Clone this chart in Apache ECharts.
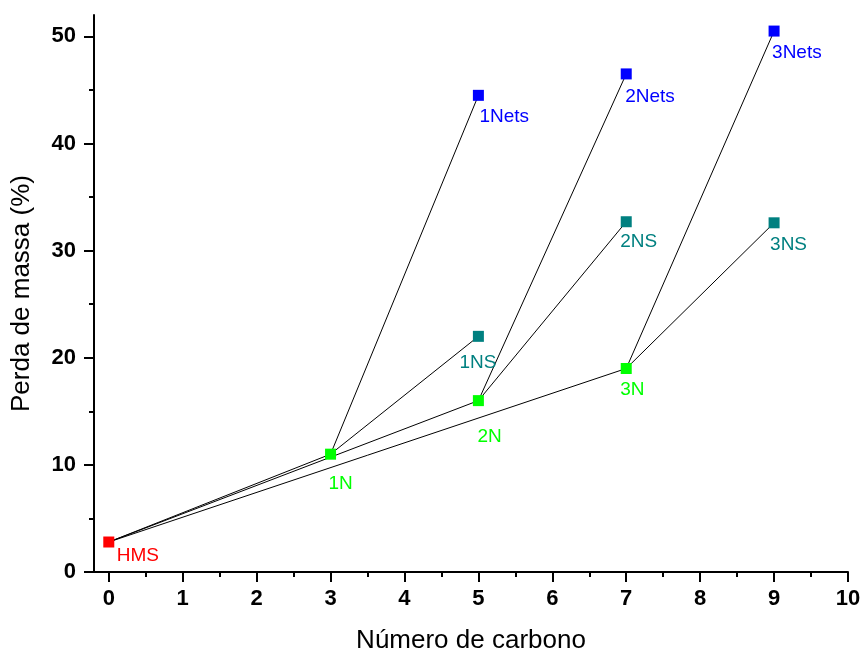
<!DOCTYPE html>
<html>
<head>
<meta charset="utf-8">
<script src="https://cdn.jsdelivr.net/npm/echarts@6/dist/echarts.min.js"></script>
<style>html,body{margin:0;padding:0;background:#fff}#c{width:862px;height:650px}</style>
</head>
<body>
<div id="c"></div>
<script>
// ---- data ----
const names = ['HMS', '1N', '2N', '3N', '1NS', '2NS', '3NS', '1Nets', '2Nets', '3Nets'];
const carbonNumber = [0, 3, 5, 7, 5, 7, 9, 5, 7, 9];
const massLoss = [2.8, 11, 16, 19, 22, 32.7, 32.6, 44.5, 46.5, 50.5];
const groups = ['HMS', 'N', 'N', 'N', 'NS', 'NS', 'NS', 'Nets', 'Nets', 'Nets'];
const links = [
  ['HMS', '1N'], ['HMS', '2N'], ['HMS', '3N'],
  ['1N', '1NS'], ['1N', '1Nets'],
  ['2N', '2NS'], ['2N', '2Nets'],
  ['3N', '3NS'], ['3N', '3Nets']
];
const xTicks = [0, 1, 2, 3, 4, 5, 6, 7, 8, 9, 10];
const xMinorTicks = [0.5, 1.5, 2.5, 3.5, 4.5, 5.5, 6.5, 7.5, 8.5, 9.5];
const yTicks = [0, 10, 20, 30, 40, 50];
const yMinorTicks = [5, 15, 25, 35, 45];

// ---- styles ----
const groupColor = { HMS: '#ff0000', N: '#00ff00', NS: '#008080', Nets: '#0000ff' };
const labelOffset = {
  'HMS': [8, 14], '1N': [-2, 30], '2N': [-1, 36], '3N': [-6, 21],
  '1NS': [-19, 26], '2NS': [-6, 20], '3NS': [-4, 22],
  '1Nets': [1, 21], '2Nets': [-1, 23], '3Nets': [-2, 22]
};
const FONT = '"Liberation Sans", Arial, sans-serif';

const idx = n => names.indexOf(n);
const series = [];
links.forEach(([a, b]) => {
  series.push({
    type: 'line', xAxisIndex: 0, yAxisIndex: 0, silent: true,
    symbol: 'none', z: 1,
    lineStyle: { color: '#000', width: 1, opacity: 1 },
    data: [[carbonNumber[idx(a)], massLoss[idx(a)]], [carbonNumber[idx(b)], massLoss[idx(b)]]]
  });
});
series.push({
  type: 'scatter', xAxisIndex: 0, yAxisIndex: 0, z: 3,
  symbol: 'rect', symbolSize: 11,
  data: names.map((n, i) => ({
    name: n,
    value: [carbonNumber[i], massLoss[i]],
    itemStyle: { color: groupColor[groups[i]], opacity: 1 },
    label: {
      show: true, formatter: n, position: 'inside', align: 'left', verticalAlign: 'middle',
      offset: labelOffset[n], color: groupColor[groups[i]],
      fontFamily: FONT, fontSize: 19
    }
  }))
});

const tickStyle = { color: '#000', width: 2 };
const option = {
  animation: false,
  backgroundColor: '#fff',
  grid: { left: 94, right: 14, top: 15, bottom: 78, containLabel: false, outerBoundsMode: 'none' },
  xAxis: [{
    type: 'value', min: -0.2, max: 10, position: 'bottom',
    name: 'Número de carbono', nameLocation: 'middle', nameGap: 56,
    nameTextStyle: { fontFamily: FONT, fontSize: 26, color: '#000' },
    axisLine: { show: true, onZero: false, lineStyle: { color: '#000', width: 2 } },
    axisTick: { show: true, inside: false, length: 10, lineStyle: tickStyle, customValues: xTicks },
    axisLabel: { customValues: xTicks, margin: 16, fontFamily: FONT, fontSize: 22, fontWeight: 'bold', color: '#000' },
    splitLine: { show: false }
  }, {
    type: 'value', min: -0.2, max: 10, position: 'bottom', offset: 0,
    axisLine: { show: false, onZero: false },
    axisTick: { show: true, length: 5, lineStyle: tickStyle, customValues: xMinorTicks },
    axisLabel: { show: false },
    splitLine: { show: false }
  }],
  yAxis: [{
    type: 'value', min: 0, max: 52, position: 'left',
    name: 'Perda de massa (%)', nameLocation: 'middle', nameGap: 59, nameRotate: 90,
    nameTextStyle: { fontFamily: FONT, fontSize: 26, color: '#000' },
    axisLine: { show: true, onZero: false, lineStyle: { color: '#000', width: 2 } },
    axisTick: { show: true, length: 10, lineStyle: tickStyle, customValues: yTicks },
    axisLabel: { customValues: yTicks, margin: 18, fontFamily: FONT, fontSize: 22, fontWeight: 'bold', color: '#000' },
    splitLine: { show: false }
  }, {
    type: 'value', min: 0, max: 52, position: 'left', offset: 0,
    axisLine: { show: false, onZero: false },
    axisTick: { show: true, length: 5, lineStyle: tickStyle, customValues: yMinorTicks },
    axisLabel: { show: false },
    splitLine: { show: false }
  }],
  series: series
};
echarts.init(document.getElementById('c'), null, { renderer: 'canvas' }).setOption(option);
</script>
</body>
</html>
